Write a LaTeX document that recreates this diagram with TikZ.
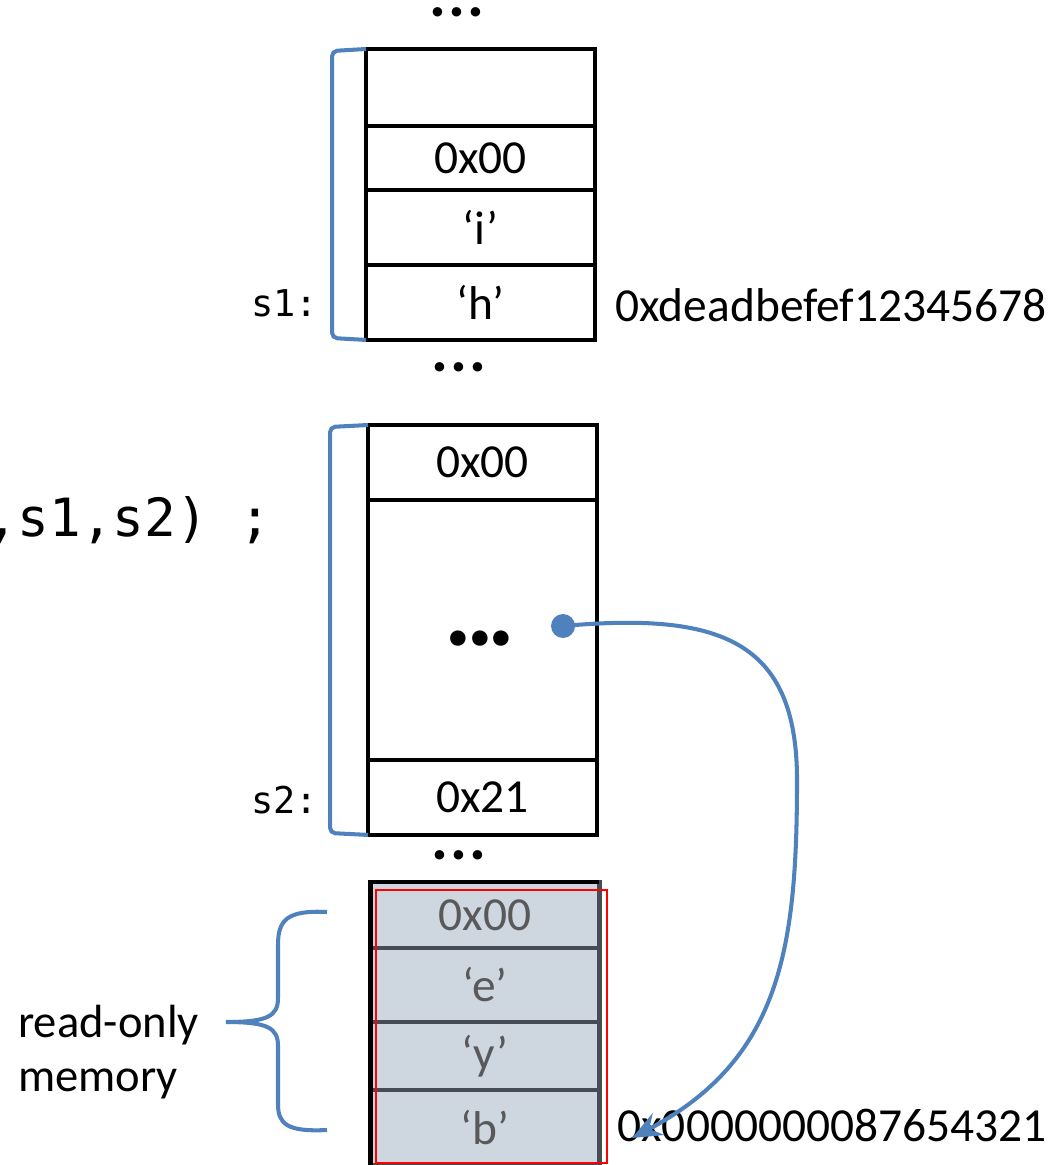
\documentclass[tikz,border=0pt]{standalone}
\usepackage{fontspec}
\setmainfont{Carlito}
\newfontfamily\codefont{DejaVu Sans Mono}
\usetikzlibrary{arrows.meta,positioning}
\definecolor{ptrblue}{HTML}{4F81BD}
\definecolor{rofill}{HTML}{CED6E0}
\definecolor{roline}{HTML}{464C55}
\definecolor{rotext}{HTML}{595959}
\begin{document}
\begin{tikzpicture}[x=0.02cm,y=-0.02cm,
  cell/.style={draw,line width=2.3pt,minimum width=4.58cm,inner sep=0pt,outer sep=0pt,
    font=\fontsize{27}{32}\selectfont},
  rocell/.style={cell,draw=roline,fill=rofill,text=rotext},
  brk/.style={ptrblue,line width=2.3pt,rounded corners=3pt},
  lbl/.style={font=\codefont\fontsize{21}{24}\selectfont,anchor=east,inner sep=0pt},
  dots/.style={font=\bfseries\fontsize{36}{36}\selectfont,anchor=base,inner sep=0pt}]
\useasboundingbox (0,0) rectangle (1057,1165);
% s1 on the stack
\node[dots] (topdots) at (457,17) {.\kern1pt.\kern1pt.};
\node[cell,minimum height=1.54cm] (t1) at (480.5,87.5) {};
\node[cell,minimum height=1.28cm,below=0pt of t1] (t2) {0x00};
\node[cell,minimum height=1.5cm,below=0pt of t2] (t3) {`i'};
\node[cell,minimum height=1.5cm,below=0pt of t3] (t4) {`h'};
\node[dots] (middots) at (459,372) {.\kern1pt.\kern1pt.};
\draw[brk] (t1.north west) -- ++(-34,2) -- ++(0,287) -- (t4.south west);
\node[lbl] (s1) at (318,303) {s1:};
\node[anchor=west,inner sep=0pt,font=\fontsize{27}{32}\selectfont] (addr1) at (615,305) {0xdeadbefef12345678};
% s2 on the stack
\node[font=\codefont\fontsize{30}{32}\selectfont,anchor=east,inner sep=0pt] (call) at (272,520) {,s1,s2) ;};
\node[cell,minimum height=1.5cm] (m1) at (482.5,462.5) {0x00};
\node[cell,minimum height=5.2cm,below=0pt of m1] (m2) {};
\node[cell,minimum height=1.5cm,below=0pt of m2] (m3) {0x21};
\node[dots,font=\bfseries\fontsize{59}{60}\selectfont] (gap) at (480,645) {.\kern-3.7pt.\kern-3.7pt.};
\draw[brk] (m1.north west) -- ++(-38,2) -- ++(0,406) -- (m3.south west);
\node[lbl] (s2) at (318,800) {s2:};
\node[dots] (lowdots) at (459,859) {.\kern1pt.\kern1pt.};
% string literal
\node[rocell,minimum height=1.32cm] (r1) at (485,915) {0x00};
\node[rocell,minimum height=1.48cm,below=0pt of r1] (r2) {`e'};
\node[rocell,minimum height=1.36cm,below=0pt of r2] (r3) {`y'};
\node[rocell,minimum height=1.5cm,below=0pt of r3] (r4) {`b'};
\draw[line width=2.6pt] (r4.south west) |- (r1.north east);
\draw[red,line width=1pt] (376,890) rectangle (607,1163);
\node[anchor=west,inner sep=0pt,font=\fontsize{27}{32}\selectfont] (addr2) at (617,1125) {0x0000000087654321};
\draw[ptrblue,line width=2.3pt]
  (327,912) .. controls (287,910) and (278,920) .. (278,945) -- (278,998)
  .. controls (278,1016) and (268,1022) .. (226,1022)
  .. controls (268,1022) and (278,1028) .. (278,1046) -- (278,1104)
  .. controls (278,1124) and (287,1132) .. (327,1130);
\node[anchor=west,align=left,inner sep=0pt,font=\fontsize{26.5}{31}\selectfont] (ro) at (18,1052) {read-only\\memory};
% pointer
\node[circle,fill=ptrblue,inner sep=0pt,minimum size=0.48cm] (ptr) at (563,626) {};
\coordinate (tip) at (632,1138);
\draw[ptrblue,line width=2.3pt,-{Stealth[length=17pt,width=14pt,inset=6pt]}]
  (ptr.center) .. controls (720,612) and (797,640) .. (797,780)
  .. controls (797,950) and (780,1060) .. (tip);
\end{tikzpicture}
\end{document}
